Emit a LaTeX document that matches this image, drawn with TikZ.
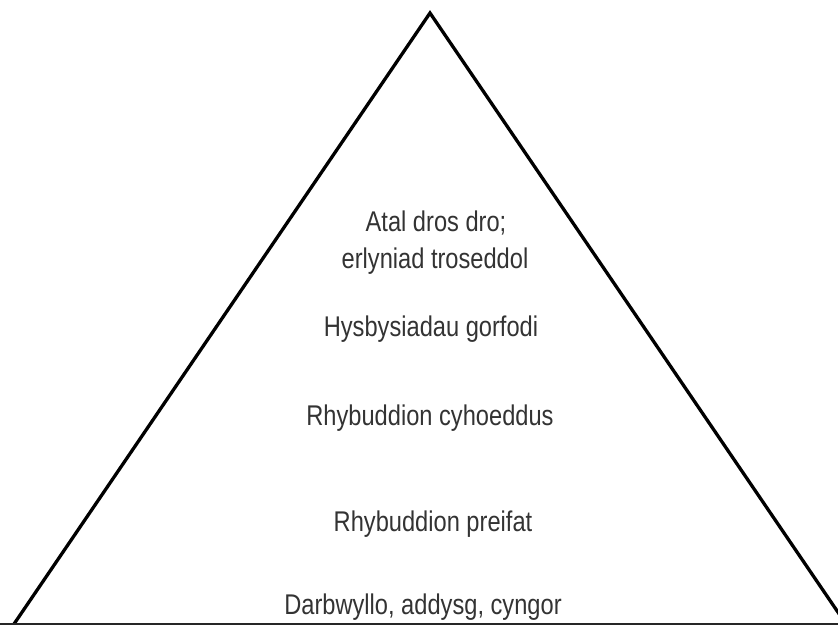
\documentclass[tikz,border=0pt]{standalone}
\usepackage{fontspec}
\setmainfont{Liberation Sans}
\newfontfamily\labfont[FakeStretch=0.83]{Liberation Sans}
\definecolor{txt}{HTML}{333333}
\begin{document}
\begin{tikzpicture}[x=1pt,y=-1pt,
  lab/.style={font=\labfont\fontsize{28.5}{34}\selectfont, text=txt, anchor=base, inner sep=0pt},
  edge/.style={line width=3.3pt, line join=miter, draw=black}]
\useasboundingbox (0,0) rectangle (838,626);
\begin{scope}
\clip (0,0) rectangle (838,626);
\coordinate (apex) at (430,13);
\coordinate (bl) at (14,624);
\coordinate (br) at (846,624);
\draw[edge] (bl) -- (apex) -- (br);
\draw[line width=2pt, draw=black!85] (0,624) -- (838,624);
\end{scope}
\node[lab] (t1a) at (436,231) {Atal dros dro;};
\node[lab] (t1b) at (435,268) {erlyniad troseddol};
\node[lab] (t2) at (431,336) {Hysbysiadau gorfodi};
\node[lab] (t3) at (430,425) {Rhybuddion cyhoeddus};
\node[lab] (t4) at (433,531) {Rhybuddion preifat};
\node[lab] (t5) at (423,614) {Darbwyllo, addysg, cyngor};
\end{tikzpicture}
\end{document}
